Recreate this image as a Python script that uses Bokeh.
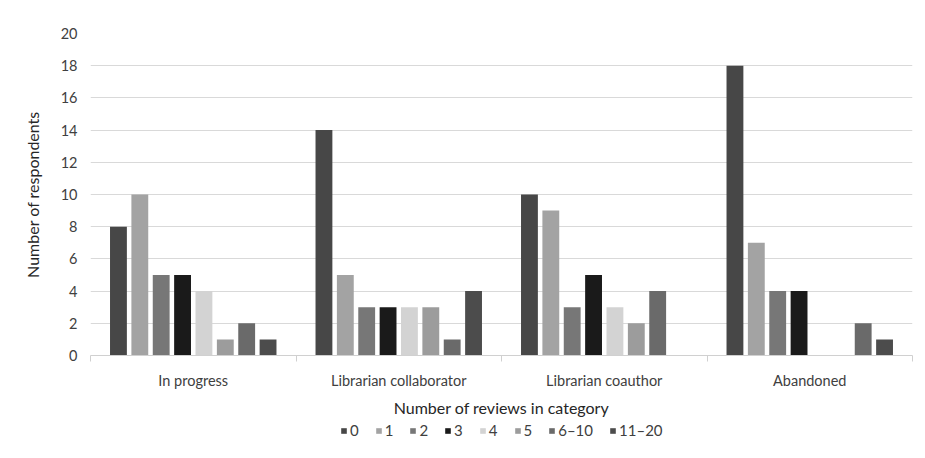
from bokeh.plotting import figure
from bokeh.layouts import column
from bokeh.models import ColumnDataSource, FixedTicker, Legend, LegendItem, Range1d
from bokeh.transform import dodge
from bokeh.embed import file_html
from bokeh.resources import INLINE

categories = ["In progress", "Librarian collaborator", "Librarian coauthor", "Abandoned"]
series = ["0", "1", "2", "3", "4", "5", "6\u201310", "11\u201320"]
values = {
    "0":     [8, 14, 10, 18],
    "1":     [10, 5, 9, 7],
    "2":     [5, 3, 3, 4],
    "3":     [5, 3, 5, 4],
    "4":     [4, 3, 3, 0],
    "5":     [1, 3, 2, 0],
    "6\u201310":  [2, 1, 4, 2],
    "11\u201320": [1, 4, 0, 1],
}
y_ticks = [0, 2, 4, 6, 8, 10, 12, 14, 16, 18, 20]

colors = ["#474747", "#a3a3a3", "#777777", "#1a1a1a", "#d3d3d3", "#9c9c9c", "#6a6a6a", "#4c4c4c"]
FONT = "Lato"

data = {"idx": [i + 0.5 for i in range(len(categories))]}
for k, s in enumerate(series):
    data["s%d" % k] = values[s]
source = ColumnDataSource(data)

p = figure(frame_width=822, frame_height=322, output_backend="svg", toolbar_location=None,
           x_range=Range1d(0, 4), y_range=Range1d(0, 20),
           min_border_left=90, min_border_right=5, min_border_top=33, min_border_bottom=64)
p.outline_line_color = None
p.background_fill_color = "white"
p.border_fill_color = "white"

# legend strip (separate figure, same data, bars kept out of its visible range)
lg = figure(width=917, height=30, output_backend="svg", toolbar_location=None,
            x_range=Range1d(0, 4), y_range=Range1d(1000, 1001),
            x_axis_location=None, y_axis_location=None, min_border=0)
lg.grid.visible = False
lg.outline_line_color = None

pitch = 0.104
width = 0.082
items = []
for k, s in enumerate(series):
    off = (k - 3.5) * pitch
    p.vbar(x=dodge("idx", off, range=p.x_range), top="s%d" % k, width=width,
           source=source, fill_color=colors[k], line_color=None)
    r = lg.vbar(x=dodge("idx", off, range=lg.x_range), top="s%d" % k, width=width,
                source=source, fill_color=colors[k], line_color=None)
    items.append(LegendItem(label=s, renderers=[r]))

p.xaxis.ticker = FixedTicker(ticks=[0.5, 1.5, 2.5, 3.5], minor_ticks=[0, 1, 2, 3, 4])
p.xaxis.major_label_overrides = {0.5: categories[0], 1.5: categories[1],
                                 2.5: categories[2], 3.5: categories[3]}
p.xaxis.major_tick_line_color = None
p.xaxis.major_tick_out = 0
p.xaxis.minor_tick_line_color = "#d0d0d0"
p.xaxis.minor_tick_in = 0
p.xaxis.minor_tick_out = 6
p.xaxis.axis_line_color = "#d0d0d0"
p.xaxis.major_label_standoff = 10
p.xaxis.axis_label = "Number of reviews in category"
p.xaxis.axis_label_standoff = 6

p.yaxis.ticker = FixedTicker(ticks=y_ticks)
p.yaxis.axis_line_color = None
p.yaxis.major_tick_line_color = None
p.yaxis.minor_tick_line_color = None
p.yaxis.major_tick_out = 0
p.yaxis.minor_tick_out = 0
p.yaxis.major_label_standoff = 13
p.yaxis.axis_label = "Number of respondents"
p.yaxis.axis_label_standoff = 16

for ax in (p.xaxis, p.yaxis):
    ax.major_label_text_font = FONT
    ax.major_label_text_font_size = "14.5px"
    ax.major_label_text_color = "#404040"
    ax.axis_label_text_font = FONT
    ax.axis_label_text_font_size = "16px"
    ax.axis_label_text_font_style = "normal"
    ax.axis_label_text_color = "#262626"

p.xgrid.grid_line_color = None
p.ygrid.grid_line_color = "#d9d9d9"
p.ygrid.ticker = FixedTicker(ticks=y_ticks)

legend = Legend(items=items, orientation="horizontal", location=(250, 10),
                label_text_font=FONT, label_text_font_size="15px", label_text_color="#404040",
                glyph_width=7, glyph_height=7, label_standoff=3, spacing=16, label_width=0,
                padding=2, margin=0, border_line_color=None, background_fill_alpha=0)
lg.add_layout(legend, "center")

layout = column(p, lg, spacing=0)
open("out.html", "w").write(file_html(layout, INLINE))
